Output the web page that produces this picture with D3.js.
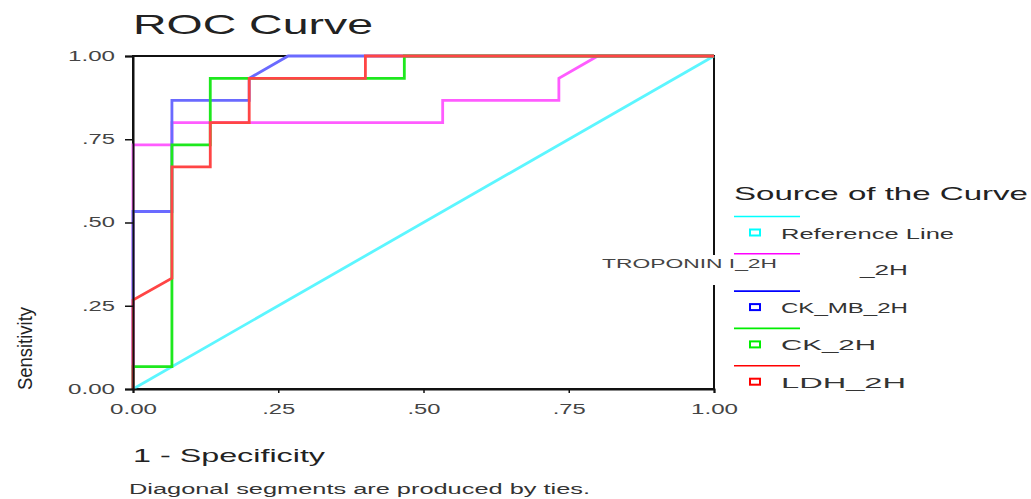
<!DOCTYPE html>
<html>
<head>
<meta charset="utf-8">
<script src="https://cdn.jsdelivr.net/npm/d3@7"></script>
<style>
  body { margin: 0; background: #fff; }
  svg { font-family: "Liberation Sans", Arial, sans-serif; }
</style>
</head>
<body>
<div id="chart"></div>
<script>
// tick values and labels
const tickVals = [0, 0.25, 0.5, 0.75, 1];
const tickLabels = ["0.00", ".25", ".50", ".75", "1.00"];

// curve points (1 - specificity, sensitivity)
const refFpr = [0, 1];
const refTpr = [0, 1];
const troponinFpr = [0, 0, 0.067, 0.067, 0.533, 0.533, 0.733, 0.733, 0.8, 1];
const troponinTpr = [0, 0.733, 0.733, 0.8, 0.8, 0.867, 0.867, 0.933, 1, 1];
const ckmbFpr = [0, 0, 0.067, 0.067, 0.2, 0.2, 0.267, 1];
const ckmbTpr = [0, 0.533, 0.533, 0.867, 0.867, 0.933, 1, 1];
const ckFpr = [0, 0, 0.067, 0.067, 0.133, 0.133, 0.467, 0.467, 1];
const ckTpr = [0, 0.067, 0.067, 0.733, 0.733, 0.933, 0.933, 1, 1];
const ldhFpr = [0, 0, 0.067, 0.067, 0.133, 0.133, 0.2, 0.2, 0.4, 0.4, 1];
const ldhTpr = [0, 0.267, 0.333, 0.667, 0.667, 0.8, 0.8, 0.933, 0.933, 1, 1];

const legendNames = ["Reference Line", "TROPONIN I_2H", "CK_MB_2H", "CK_2H", "LDH_2H"];

const width = 1031;
const height = 499;

const series = [
    { name: legendNames[0], xs: refFpr, ys: refTpr, line: "#5cf6ff", key: "#00ffff" },
    { name: legendNames[1], xs: troponinFpr, ys: troponinTpr, line: "#ff5cff", key: "#ff00ff" },
    { name: legendNames[2], xs: ckmbFpr, ys: ckmbTpr, line: "#6a6aff", key: "#0000ff" },
    { name: legendNames[3], xs: ckFpr, ys: ckTpr, line: "#1ee81e", key: "#00ee00" },
    { name: legendNames[4], xs: ldhFpr, ys: ldhTpr, line: "#ff4545", key: "#ff0000" }
];

const xScale = d3.scaleLinear().domain([0, 1]).range([133, 714]);
const yScale = d3.scaleLinear().domain([0, 1]).range([389, 56]);

const svg = d3.select("#chart")
              .append("svg")
              .attr("width", width)
              .attr("height", height);

// title
svg.append("text")
   .attr("x", 133).attr("y", 34)
   .attr("font-size", "28px")
   .attr("fill", "#222")
   .attr("textLength", 240).attr("lengthAdjust", "spacingAndGlyphs")
   .text("ROC Curve");

// frame
svg.append("rect")
   .attr("x", xScale(0)).attr("y", yScale(1))
   .attr("width", xScale(1) - xScale(0))
   .attr("height", yScale(0) - yScale(1))
   .attr("fill", "none")
   .attr("stroke", "#111")
   .attr("stroke-width", 2);

// curves
const line = d3.line().x(d => xScale(d[0])).y(d => yScale(d[1]));
series.forEach(s => {
    const pts = s.xs.map((x, i) => [x, s.ys[i]]);
    svg.append("path")
       .attr("d", line(pts))
       .attr("fill", "none")
       .attr("stroke", s.line)
       .attr("stroke-width", 2.8);
});

// axes
const yAxis = d3.axisLeft(yScale)
                .tickValues(tickVals)
                .tickFormat((d, i) => tickLabels[i])
                .tickSize(8).tickPadding(10);
const xAxis = d3.axisBottom(xScale)
                .tickValues(tickVals)
                .tickFormat((d, i) => tickLabels[i])
                .tickSize(4).tickPadding(8);

const gy = svg.append("g")
   .attr("transform", "translate(" + xScale(0) + ",0)")
   .call(yAxis);
const gx = svg.append("g")
   .attr("transform", "translate(0," + yScale(0) + ")")
   .call(xAxis);

[gx, gy].forEach(g => {
    g.select(".domain").attr("stroke", "#111").attr("stroke-width", 2);
    g.selectAll(".tick line").attr("stroke", "#111").attr("stroke-width", 1.5);
    g.selectAll(".tick text")
     .attr("font-size", "14px")
     .attr("fill", "#444")
     .attr("font-family", "Liberation Sans, Arial, sans-serif")
     .attr("lengthAdjust", "spacingAndGlyphs")
     .attr("textLength", (d, i) => tickLabels[i].length > 3 ? 47 : 33);
});
gx.selectAll(".tick text").attr("dy", "0.9em");

// axis titles
svg.append("text")
   .attr("transform", "translate(32,390) rotate(-90)")
   .attr("font-size", "20px")
   .attr("fill", "#222")
   .attr("textLength", 83).attr("lengthAdjust", "spacingAndGlyphs")
   .text("Sensitivity");

svg.append("text")
   .attr("x", 133).attr("y", 462)
   .attr("font-size", "19px")
   .attr("fill", "#222")
   .attr("textLength", 192).attr("lengthAdjust", "spacingAndGlyphs")
   .text("1 - Specificity");

svg.append("text")
   .attr("x", 129).attr("y", 494)
   .attr("font-size", "14px")
   .attr("fill", "#333")
   .attr("textLength", 461).attr("lengthAdjust", "spacingAndGlyphs")
   .text("Diagonal segments are produced by ties.");

// legend
const legX = 734;
svg.append("text")
   .attr("x", legX).attr("y", 200)
   .attr("font-size", "19px")
   .attr("fill", "#222")
   .attr("textLength", 294).attr("lengthAdjust", "spacingAndGlyphs")
   .text("Source of the Curve");

const labelLen = [173, 0, 127, 95, 125];
series.forEach((s, i) => {
    const yLine = 216.5 + i * 37.3;
    svg.append("line")
       .attr("x1", legX).attr("x2", legX + 66)
       .attr("y1", yLine).attr("y2", yLine)
       .attr("stroke", s.key).attr("stroke-width", 1.6);
    svg.append("rect")
       .attr("x", legX + 16).attr("y", yLine + 13)
       .attr("width", 10).attr("height", 6)
       .attr("fill", "none")
       .attr("stroke", s.key).attr("stroke-width", 2);
    if (i !== 1) {
        svg.append("text")
           .attr("x", 781).attr("y", yLine + 22)
           .attr("font-size", "15px")
           .attr("fill", "#333")
           .attr("textLength", labelLen[i]).attr("lengthAdjust", "spacingAndGlyphs")
           .text(s.name);
    }
});

// troponin label overflows to the left with a white box
svg.append("text")
   .attr("x", 860).attr("y", 275)
   .attr("font-size", "15px")
   .attr("fill", "#333")
   .attr("textLength", 48).attr("lengthAdjust", "spacingAndGlyphs")
   .text("_2H");
svg.append("rect")
   .attr("x", 598).attr("y", 255)
   .attr("width", 184).attr("height", 30)
   .attr("fill", "#fff");
svg.append("text")
   .attr("x", 602).attr("y", 268)
   .attr("font-size", "13px")
   .attr("fill", "#444")
   .attr("textLength", 175).attr("lengthAdjust", "spacingAndGlyphs")
   .text(legendNames[1]);
</script>
</body>
</html>
